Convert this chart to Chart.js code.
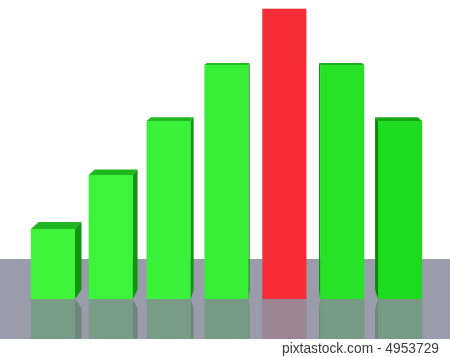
<!DOCTYPE html>
<html>
<head>
<meta charset="utf-8">
<script src="https://cdn.jsdelivr.net/npm/chart.js@4/dist/chart.umd.min.js"></script>
<style>
  html, body { margin: 0; padding: 0; background: #ffffff; }
  canvas { display: block; }
</style>
</head>
<body>
<canvas id="c" width="450" height="357"></canvas>
<script>
// ---- data ----
const categories = ['1', '2', '3', '4', '5', '6', '7'];
const values = [70, 124, 178, 234, 290, 234, 178];
const yMin = -40;
const yMax = 290;
const caption = 'pixtastock.com - 4953729';

// ---- styles ----
const frontColors = ['#3ef53a', '#3cf43a', '#3af23a', '#35ee35', '#f62c36', '#28e228', '#1fdb1f'];
const topColors   = ['#20b420', '#20b620', '#22b822', '#22bb22', '#c81e28', '#1cb01c', '#18a818'];
const sideColors  = ['#0e960e', '#0e960e', '#0f980f', '#109a10', '#b01a22', '#0c8c0c', '#0b880b'];
const reflColors  = ['#789c86', '#789c86', '#789c86', '#789b86', '#9c8593', '#779a85', '#779a85'];
const reflSide = '#6d877a';
const floorColor = '#9a9cab';
const depthK = 0.031;

const bar3d = {
  id: 'bar3d',
  beforeDatasetsDraw(chart) {
    const ctx = chart.ctx;
    const area = chart.chartArea;
    const meta = chart.getDatasetMeta(0);
    const vx = meta.data[4].x, vy = 0;
    const base = chart.scales.y.getPixelForValue(0);
    ctx.save();
    // floor
    ctx.fillStyle = floorColor;
    ctx.fillRect(0, base - 40, chart.width, area.bottom - (base - 40));
    // reflections
    meta.data.forEach((el, i) => {
      const L = el.x - el.width / 2, R = el.x + el.width / 2;
      ctx.fillStyle = reflColors[i];
      ctx.fillRect(L, base, R - L, area.bottom - base);
      const bb = base + depthK * (vy - base);
      const mirrorB = base + (base - bb);
      if (R < vx - 1) {
        const Rb = R + depthK * (vx - R);
        ctx.fillStyle = reflSide;
        ctx.beginPath();
        ctx.moveTo(R, base); ctx.lineTo(Rb, mirrorB);
        ctx.lineTo(Rb, area.bottom); ctx.lineTo(R, area.bottom);
        ctx.closePath(); ctx.fill();
      } else if (L > vx + 1) {
        const Lb = L + depthK * (vx - L);
        ctx.fillStyle = reflSide;
        ctx.beginPath();
        ctx.moveTo(L, base); ctx.lineTo(Lb, mirrorB);
        ctx.lineTo(Lb, area.bottom); ctx.lineTo(L, area.bottom);
        ctx.closePath(); ctx.fill();
      }
    });
    ctx.restore();
  },
  afterDatasetsDraw(chart) {
    const ctx = chart.ctx;
    const meta = chart.getDatasetMeta(0);
    const vx = meta.data[4].x, vy = 0;
    const back = (x, y) => [x + depthK * (vx - x), y + depthK * (vy - y)];
    ctx.save();
    meta.data.forEach((el, i) => {
      const L = el.x - el.width / 2, R = el.x + el.width / 2;
      const T = el.y, B = el.base;
      const bTL = back(L, T), bTR = back(R, T), bBR = back(R, B), bBL = back(L, B);
      // top face
      if (T > vy) {
        ctx.fillStyle = topColors[i];
        ctx.beginPath();
        ctx.moveTo(L, T); ctx.lineTo(R, T); ctx.lineTo(bTR[0], bTR[1]); ctx.lineTo(bTL[0], bTL[1]);
        ctx.closePath(); ctx.fill();
      }
      // side face
      if (R < vx - 1) {
        ctx.fillStyle = sideColors[i];
        ctx.beginPath();
        ctx.moveTo(R, T); ctx.lineTo(bTR[0], bTR[1]); ctx.lineTo(bBR[0], bBR[1]); ctx.lineTo(R, B);
        ctx.closePath(); ctx.fill();
      } else if (L > vx + 1) {
        ctx.fillStyle = sideColors[i];
        ctx.beginPath();
        ctx.moveTo(L, T); ctx.lineTo(bTL[0], bTL[1]); ctx.lineTo(bBL[0], bBL[1]); ctx.lineTo(L, B);
        ctx.closePath(); ctx.fill();
      }
    });
    ctx.restore();
  },
  afterDraw(chart) {
    const ctx = chart.ctx;
    ctx.save();
    ctx.fillStyle = '#3a3a3a';
    ctx.font = '14px "Liberation Sans", Arial, sans-serif';
    ctx.textAlign = 'right';
    ctx.textBaseline = 'alphabetic';
    ctx.fillText(caption, 439, 353, 157);
    ctx.restore();
  }
};

new Chart(document.getElementById('c'), {
  type: 'bar',
  data: {
    labels: categories,
    datasets: [{
      data: values,
      backgroundColor: frontColors,
      borderWidth: 0,
      barPercentage: 0.763,
      categoryPercentage: 1
    }]
  },
  options: {
    responsive: false,
    animation: false,
    layout: { padding: { left: 24, right: 21, top: 9, bottom: 18 } },
    plugins: { legend: { display: false }, tooltip: { enabled: false } },
    scales: {
      x: { display: false },
      y: { display: false, min: yMin, max: yMax }
    }
  },
  plugins: [bar3d]
});
</script>
</body>
</html>
